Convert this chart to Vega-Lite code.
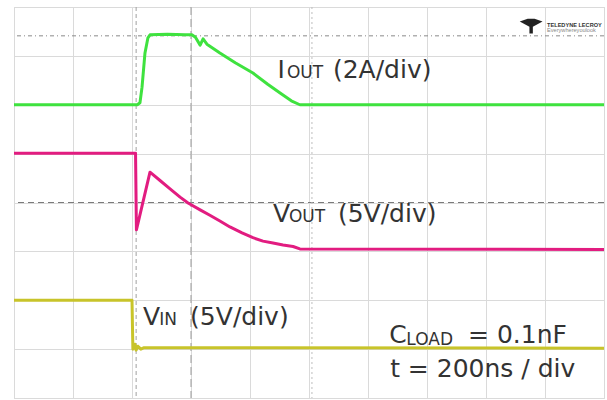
{
  "$schema": "https://vega.github.io/schema/vega-lite/v6.json",
  "width": 590,
  "height": 391,
  "autosize": {"type": "none"},
  "padding": {"left": 14, "top": 7, "right": 3, "bottom": 2},
  "background": "white",
  "config": {
    "view": {"stroke": "#cfcfcf", "strokeWidth": 1},
    "axis": {"gridColor": "#dadada", "gridWidth": 1, "labels": false, "ticks": false, "domain": false, "title": null},
    "text": {"font": "DejaVu Sans", "color": "#333333"}
  },
  "datasets": {
    "traces": [
      {"ch": "IOUT", "t": 0, "v": 6.0}, {"ch": "IOUT", "t": 418, "v": 6.0}, {"ch": "IOUT", "t": 427, "v": 6.04},
      {"ch": "IOUT", "t": 434, "v": 6.36}, {"ch": "IOUT", "t": 444, "v": 7.06}, {"ch": "IOUT", "t": 454, "v": 7.37},
      {"ch": "IOUT", "t": 461, "v": 7.43}, {"ch": "IOUT", "t": 520, "v": 7.44}, {"ch": "IOUT", "t": 580, "v": 7.43},
      {"ch": "IOUT", "t": 603, "v": 7.43}, {"ch": "IOUT", "t": 615, "v": 7.38}, {"ch": "IOUT", "t": 631, "v": 7.22},
      {"ch": "IOUT", "t": 641, "v": 7.35}, {"ch": "IOUT", "t": 654, "v": 7.24}, {"ch": "IOUT", "t": 698, "v": 7.06},
      {"ch": "IOUT", "t": 750, "v": 6.86}, {"ch": "IOUT", "t": 810, "v": 6.65}, {"ch": "IOUT", "t": 860, "v": 6.42},
      {"ch": "IOUT", "t": 902, "v": 6.24}, {"ch": "IOUT", "t": 940, "v": 6.08}, {"ch": "IOUT", "t": 969, "v": 6.0},
      {"ch": "IOUT", "t": 2000, "v": 6.0},
      {"ch": "VOUT", "t": 0, "v": 5.01}, {"ch": "VOUT", "t": 412, "v": 5.01}, {"ch": "VOUT", "t": 415, "v": 3.44},
      {"ch": "VOUT", "t": 461, "v": 4.62}, {"ch": "VOUT", "t": 495, "v": 4.45}, {"ch": "VOUT", "t": 529, "v": 4.28},
      {"ch": "VOUT", "t": 563, "v": 4.11}, {"ch": "VOUT", "t": 590, "v": 3.99}, {"ch": "VOUT", "t": 631, "v": 3.85},
      {"ch": "VOUT", "t": 664, "v": 3.74}, {"ch": "VOUT", "t": 698, "v": 3.62}, {"ch": "VOUT", "t": 732, "v": 3.5},
      {"ch": "VOUT", "t": 773, "v": 3.38}, {"ch": "VOUT", "t": 810, "v": 3.28}, {"ch": "VOUT", "t": 844, "v": 3.21},
      {"ch": "VOUT", "t": 878, "v": 3.17}, {"ch": "VOUT", "t": 912, "v": 3.13}, {"ch": "VOUT", "t": 946, "v": 3.1},
      {"ch": "VOUT", "t": 969, "v": 3.05}, {"ch": "VOUT", "t": 2000, "v": 3.04},
      {"ch": "VIN", "t": 0, "v": 2.0}, {"ch": "VIN", "t": 400, "v": 2.0}, {"ch": "VIN", "t": 403, "v": 1.0},
      {"ch": "VIN", "t": 410, "v": 1.1}, {"ch": "VIN", "t": 414, "v": 0.98}, {"ch": "VIN", "t": 420, "v": 1.06},
      {"ch": "VIN", "t": 430, "v": 1.0}, {"ch": "VIN", "t": 441, "v": 1.03}, {"ch": "VIN", "t": 2000, "v": 1.02}
    ],
    "mainText": [
      {"t": 893, "v": 6.55, "label": "I"},
      {"t": 1081, "v": 6.55, "label": "(2A/div)"},
      {"t": 878, "v": 3.6, "label": "V"},
      {"t": 1098, "v": 3.6, "label": "(5V/div)"},
      {"t": 437, "v": 1.49, "label": "V"},
      {"t": 597, "v": 1.49, "label": "(5V/div)"},
      {"t": 1272, "v": 1.125, "label": "C"},
      {"t": 1539, "v": 1.125, "label": "= 0.1nF"},
      {"t": 1275, "v": 0.43, "label": "t = 200ns / div"}
    ],
    "subText": [
      {"t": 925, "v": 6.55, "label": "OUT"},
      {"t": 932, "v": 3.6, "label": "OUT"},
      {"t": 492, "v": 1.49, "label": "IN"},
      {"t": 1330, "v": 1.08, "label": "LOAD"}
    ],
    "markers": [
      {"ch": "ref", "v": 7.41},
      {"ch": "IOUT", "v": 6.0},
      {"ch": "VOUT", "v": 3.03},
      {"ch": "VIN", "v": 1.02}
    ]
  },
  "encoding": {
    "x": {"field": "t", "type": "quantitative", "scale": {"domain": [0, 2000], "nice": false, "zero": false}},
    "y": {"field": "v", "type": "quantitative", "scale": {"domain": [0, 8], "nice": false, "zero": false}}
  },
  "layer": [
    {
      "data": {"values": [{"t": 0}]},
      "mark": {"type": "rule", "opacity": 0},
      "encoding": {
        "x": {"field": "t", "type": "quantitative", "axis": {"values": [0, 200, 400, 600, 800, 1000, 1200, 1400, 1600, 1800, 2000], "grid": true}},
        "y": {"datum": 0, "type": "quantitative", "axis": {"values": [0, 1, 2, 3, 4, 5, 6, 7, 8], "grid": true}}
      }
    },
    {
      "data": {"values": [{"v": 7.41}]},
      "mark": {"type": "rule", "color": "#8a8a8a", "strokeDash": [4, 3, 1, 3], "strokeWidth": 1},
      "encoding": {"x": null, "y": {"field": "v", "type": "quantitative"}}
    },
    {
      "data": {"values": [{"v": 4.0}]},
      "mark": {"type": "rule", "color": "#7a7a7a", "strokeDash": [6, 4], "strokeWidth": 1},
      "encoding": {"x": null, "y": {"field": "v", "type": "quantitative"}}
    },
    {
      "data": {"values": [{"t": 414}]},
      "mark": {"type": "rule", "color": "#a0a0a0", "strokeDash": [4, 3], "strokeWidth": 1},
      "encoding": {"y": null, "x": {"field": "t", "type": "quantitative"}}
    },
    {
      "data": {"values": [{"t": 600}]},
      "mark": {"type": "rule", "color": "#9a9a9a", "strokeDash": [8, 4], "strokeWidth": 1},
      "encoding": {"y": null, "x": {"field": "t", "type": "quantitative"}}
    },
    {
      "data": {"values": [{"t": 1010}]},
      "mark": {"type": "rule", "color": "#bdbdbd", "strokeDash": [2, 3], "strokeWidth": 1},
      "encoding": {"y": null, "x": {"field": "t", "type": "quantitative"}}
    },
    {
      "data": {"name": "markers"},
      "mark": {"type": "point", "shape": "triangle-right", "filled": true, "size": 14, "opacity": 0.8},
      "encoding": {
        "x": {"datum": -8, "type": "quantitative"},
        "color": {"field": "ch", "type": "nominal", "scale": {"domain": ["IOUT", "VOUT", "VIN", "ref"], "range": ["#3fe23f", "#e21c80", "#c8c42a", "#666666"]}, "legend": null}
      }
    },
    {
      "data": {"name": "traces"},
      "mark": {"type": "line", "strokeWidth": 3, "strokeJoin": "round", "strokeCap": "butt"},
      "encoding": {
        "color": {"field": "ch", "type": "nominal", "legend": null},
        "detail": {"field": "ch"}
      }
    },
    {
      "data": {"name": "mainText"},
      "mark": {"type": "text", "fontSize": 25, "align": "left", "baseline": "alphabetic"},
      "encoding": {"text": {"field": "label"}}
    },
    {
      "data": {"name": "subText"},
      "mark": {"type": "text", "fontSize": 17, "align": "left", "baseline": "alphabetic"},
      "encoding": {"text": {"field": "label"}}
    },
    {
      "data": {"values": [{"t": 1753, "v": 7.61}]},
      "mark": {"type": "point", "filled": true, "color": "#222222", "opacity": 1, "size": 520, "shape": "M-1,-0.4 L-0.3,-0.65 L0.3,-0.65 L1,-0.4 L0.15,0.05 L0.15,0.65 L-0.15,0.65 L-0.15,0.05 Z"}
    },
    {
      "data": {"values": [{"t": 1807, "v": 7.6, "label": "TELEDYNE LECROY"}]},
      "mark": {"type": "text", "font": "Liberation Sans", "fontSize": 5.6, "fontWeight": "bold", "align": "left", "baseline": "alphabetic", "color": "#333333"},
      "encoding": {"text": {"field": "label"}}
    },
    {
      "data": {"values": [{"t": 1807, "v": 7.48, "label": "Everywhereyoulook"}]},
      "mark": {"type": "text", "font": "Liberation Sans", "fontSize": 5.6, "align": "left", "baseline": "alphabetic", "color": "#888888"},
      "encoding": {"text": {"field": "label"}}
    }
  ]
}
